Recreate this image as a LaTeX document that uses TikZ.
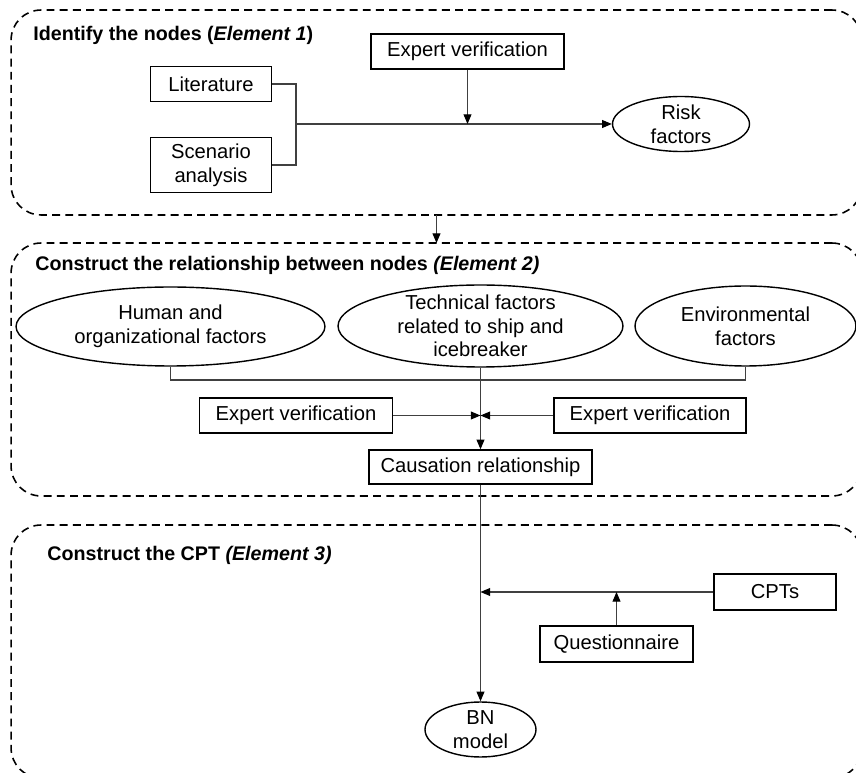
\documentclass[tikz,border=0pt]{standalone}
\usepackage{fontspec}
\setmainfont{Liberation Sans}
\usepackage{tikz}
\usetikzlibrary{arrows.meta, positioning, shapes.geometric}
\newcommand{\figfont}{\fontsize{11.5}{13.5}\selectfont}
\tikzset{
    group/.style={draw, dash pattern=on 4.5pt off 3pt, line width=0.9pt, rounded corners=0.6cm, inner sep=0pt, outer sep=0pt},
    box/.style={draw, line width=0.8pt, align=center, inner sep=2pt},
    oval/.style={draw, ellipse, line width=0.8pt, align=center, inner sep=0pt},
    link/.style={draw=black!75, line width=0.6pt},
    arr/.style={link, -{Triangle[length=5.5pt, width=4.5pt, color=black]}},
    title/.style={anchor=west, inner xsep=0pt, font=\fontsize{11.2}{13.5}\selectfont\bfseries}
}

\begin{document}
\begin{tikzpicture}[x=0.02cm, y=-0.02cm, font=\figfont]
    \useasboundingbox (0,0) rectangle (856,773);
    \clip (0,0) rectangle (856,773);
    % Element 1
    \node[group, minimum width=17.02cm, minimum height=4.1cm] (g1) at (436.5,112.5) {};
    \node[title] (t1) at (33,35) {Identify the nodes (\textit{Element 1})};
    \node[box, minimum width=2.42cm, minimum height=0.7cm] (lit) at (211,84) {Literature};
    \node[box, minimum width=2.42cm, minimum height=1.1cm] (scen) at (211,165) {Scenario\\analysis};
    \node[box, minimum width=3.86cm, minimum height=0.7cm] (ev1) at (467.5,51.5) {Expert verification};
    \node[oval, minimum width=2.74cm, minimum height=1.1cm] (risk) at (681,124) {Risk\\factors};
    \coordinate (j1) at (296,124);
    \draw[link] (lit.east) -| (j1) |- (scen.east);
    \draw[arr] (j1) -- (risk);
    \draw[arr] (ev1) -- (ev1 |- j1);
    % Element 2
    \node[group, minimum width=17.02cm, minimum height=5.06cm] (g2) at (436.5,369.5) {};
    \draw[arr] (g1) -- (g2);
    \node[title] (t2) at (35,265) {Construct the relationship between nodes \textit{(Element 2)}};
    \node[oval, minimum width=6.18cm, minimum height=1.58cm] (hum) at (170.5,326.5) {Human and\\organizational factors};
    \node[oval, minimum width=5.7cm, minimum height=1.64cm, inner ysep=-0.12cm] (tech) at (480.5,326) {Technical factors\\related to ship and\\icebreaker};
    \node[oval, minimum width=4.42cm, minimum height=1.6cm] (env) at (745.5,326) {Environmental\\factors};
    \coordinate (bar) at (480.5,380);
    \draw[link] (hum.south) |- (env.south |- bar) -- (env.south);
    \node[box, minimum width=3.86cm, minimum height=0.7cm] (ev2) at (296,415.5) {Expert verification};
    \node[box, minimum width=3.84cm, minimum height=0.7cm] (ev3) at (650,415.5) {Expert verification};
    \node[box, minimum width=4.46cm, minimum height=0.68cm] (cau) at (480.5,467) {Causation relationship};
    \draw[arr] (tech) -- (cau);
    \draw[arr] (ev2) -- (ev2 -| tech);
    \draw[arr] (ev3) -- (ev3 -| tech);
    % Element 3
    \node[group, minimum width=17.02cm, minimum height=5.06cm] (g3) at (436.5,651.5) {};
    \node[title] (t3) at (47,555) {Construct the CPT \textit{(Element 3)}};
    \node[box, minimum width=2.44cm, minimum height=0.72cm] (cpt) at (775,592) {CPTs};
    \node[box, minimum width=3.06cm, minimum height=0.72cm] (que) at (616.5,644) {Questionnaire};
    \node[oval, minimum width=2.22cm, minimum height=1.1cm] (bn) at (480.5,729.5) {BN\\model};
    \draw[arr] (cau) -- (bn);
    \draw[arr] (cpt) -- (cpt -| cau);
    \draw[arr] (que) -- (que |- cpt);
\end{tikzpicture}
\end{document}
